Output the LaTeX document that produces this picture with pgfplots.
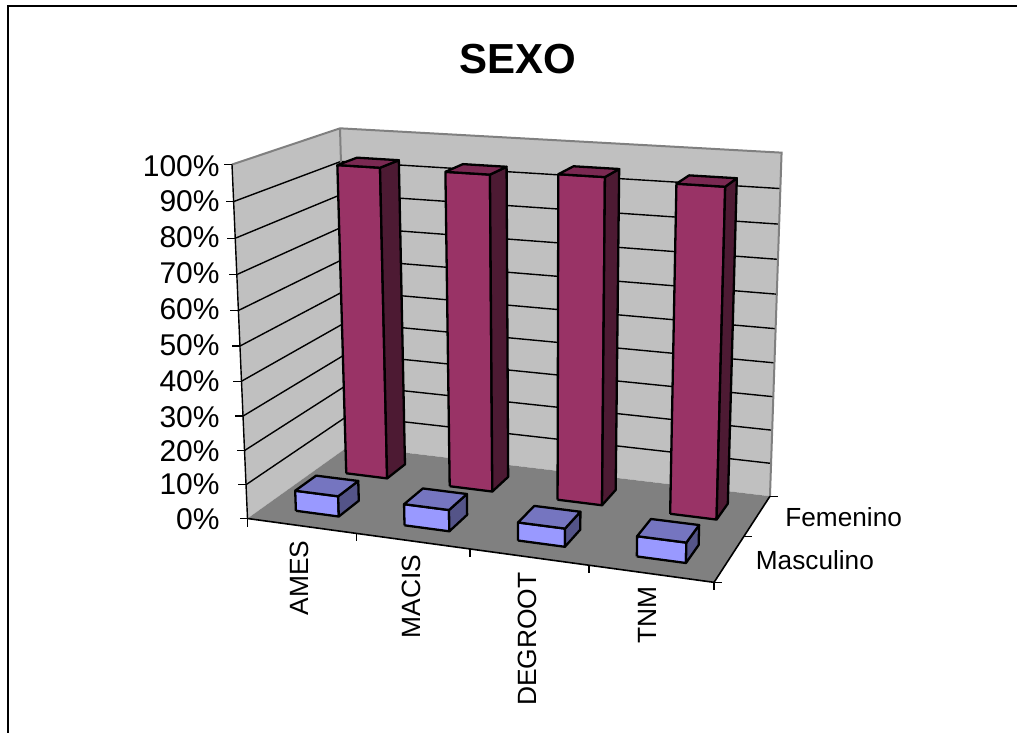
\documentclass[border=0pt]{standalone}
\usepackage{pgfplots}
\usepackage{pgfplotstable}
\usepackage{fontspec}
\setmainfont{Liberation Sans}
\pgfplotsset{compat=1.18}

% Perspective projection of the chart space onto the drawing plane:
% u = category position 0..4, v = series position 0..2, w = percent 0..100.
\pgfmathdeclarefunction{projd}{3}{\pgfmathparse{1-0.022*#1+0.06*#2-0.0005*#3}}
\pgfmathdeclarefunction{projx}{3}{\pgfmathparse{(247.5+100.925*#1+71.7*#2-0.271*#3)/projd(#1,#2,#3)}}
\pgfmathdeclarefunction{projy}{3}{\pgfmathparse{(518.5+3.15*#1-9.5*#2-3.622*#3)/projd(#1,#2,#3)}}

\definecolor{wall}{HTML}{C0C0C0}
\definecolor{floorc}{HTML}{808080}
\definecolor{redfront}{HTML}{993366}
\definecolor{redside}{HTML}{4D1A33}
\definecolor{redtop}{HTML}{7A2952}
\definecolor{bluefront}{HTML}{9999FF}
\definecolor{blueside}{HTML}{545488}
\definecolor{bluetop}{HTML}{7575C0}

% Faces of a unit column
\pgfplotstableread{
a b c
0 0 0
1 0 0
1 0 1
0 0 1
0 0 0
}\facefront
\pgfplotstableread{
a b c
1 0 0
1 1 0
1 1 1
1 0 1
1 0 0
}\faceside
\pgfplotstableread{
a b c
0 0 1
1 0 1
1 1 1
0 1 1
0 0 1
}\facetop

% Chart-space outlines
\pgfplotstableread{
u v w
0 0 0
0 2 0
0 2 100
0 0 100
0 0 0
}\leftwall
\pgfplotstableread{
u v w
0 2 0
4 2 0
4 2 100
0 2 100
0 2 0
}\backwall
\pgfplotstableread{
u v w
0 0 0
4 0 0
4 2 0
0 2 0
0 0 0
}\floorplane
\pgfplotstableread{
u v w
0 0 100
0 2 100
4 2 100
4 2 0
}\wallrim
\pgfplotstableread{
u v
0 0
0 2
4 2
}\gridpath
\pgfplotstableread{
u v w
0 2 0
0 2 100
}\wallcorner
\pgfplotstableread{
u v w
0 0 100
0 0 0
}\leftedge
\pgfplotstableread{
u v w
0 0 0
4 0 0
4 2 0
}\frontedges
\pgfplotstableread{
t s
0 0
1 1
}\tickunit

% One column: category index, series index, percent, three face colours
\newcommand{\tridbar}[6]{%
  \addplot[fill=#4,draw=black,line width=1.15pt,line join=round]
    table[x expr={projx(#1+0.3+0.4*\thisrow{a},#2+0.3+0.4*\thisrow{b},#3*\thisrow{c})},
          y expr={projy(#1+0.3+0.4*\thisrow{a},#2+0.3+0.4*\thisrow{b},#3*\thisrow{c})}] {\facefront};
  \addplot[fill=#5,draw=black,line width=1.15pt,line join=round]
    table[x expr={projx(#1+0.3+0.4*\thisrow{a},#2+0.3+0.4*\thisrow{b},#3*\thisrow{c})},
          y expr={projy(#1+0.3+0.4*\thisrow{a},#2+0.3+0.4*\thisrow{b},#3*\thisrow{c})}] {\faceside};
  \addplot[fill=#6,draw=black,line width=1.15pt,line join=round]
    table[x expr={projx(#1+0.3+0.4*\thisrow{a},#2+0.3+0.4*\thisrow{b},#3*\thisrow{c})},
          y expr={projy(#1+0.3+0.4*\thisrow{a},#2+0.3+0.4*\thisrow{b},#3*\thisrow{c})}] {\facetop};
}
\pgfkeys{/pgfplots/table/space/.style={x expr={projx(\thisrow{u},\thisrow{v},\thisrow{w})},
                                       y expr={projy(\thisrow{u},\thisrow{v},\thisrow{w})}}}

\begin{document}
\begin{tikzpicture}
\useasboundingbox (0,0) rectangle (508.5pt,366.5pt);
\begin{axis}[
  at={(0,0)}, anchor=south west,
  width=508.5pt, height=366.5pt, scale only axis,
  xmin=0, xmax=1017, ymin=0, ymax=733, y dir=reverse,
  axis lines=none, clip=true,
  every axis plot/.append style={mark=none, forget plot},
  nodes={inner sep=0pt},
]
% chart frame
\addplot[black,line width=1pt] coordinates {(7.5,733) (7.5,6.5) (1017,6.5)};

% walls and floor
\addplot[fill=wall,draw=none] table[space] {\leftwall};
\addplot[fill=wall,draw=none] table[space] {\backwall};
\addplot[fill=floorc,draw=none] table[space] {\floorplane};

% gridlines every 10%
\pgfplotsinvokeforeach{10,20,...,90}{
  \addplot[black,line width=0.7pt]
    table[x expr={projx(\thisrow{u},\thisrow{v},#1)},y expr={projy(\thisrow{u},\thisrow{v},#1)}] {\gridpath};
}
\addplot[floorc,line width=1pt] table[space] {\wallrim};
\addplot[floorc,line width=1pt] table[space] {\wallcorner};
\addplot[black,line width=0.7pt] table[space] {\leftedge};
\addplot[black,line width=0.8pt] table[space] {\frontedges};

% value-axis ticks
\pgfplotsinvokeforeach{0,10,...,100}{
  \addplot[black,line width=0.7pt] table[
    x expr={projx(0,0,#1)-8*\thisrow{t}},y expr={projy(0,0,#1)}] {\tickunit};
}
% category-axis ticks
\pgfplotsinvokeforeach{0,1,2,3,4}{
  \addplot[black,line width=0.7pt] table[
    x expr={projx(#1,0,0)},y expr={projy(#1,0,0)+8*\thisrow{t}}] {\tickunit};
}
% series-axis ticks
\pgfplotsinvokeforeach{0,1,2}{
  \addplot[black,line width=0.7pt] table[
    x expr={projx(4,#1,0)+8*\thisrow{t}},y expr={projy(4,#1,0)}] {\tickunit};
}

% Femenino
\tridbar{0}{1}{93.3}{redfront}{redside}{redtop}
\tridbar{1}{1}{93.3}{redfront}{redside}{redtop}
\tridbar{2}{1}{94.6}{redfront}{redside}{redtop}
\tridbar{3}{1}{94.0}{redfront}{redside}{redtop}
% Masculino
\tridbar{0}{0}{6.0}{bluefront}{blueside}{bluetop}
\tridbar{1}{0}{6.2}{bluefront}{blueside}{bluetop}
\tridbar{2}{0}{5.2}{bluefront}{blueside}{bluetop}
\tridbar{3}{0}{5.7}{bluefront}{blueside}{bluetop}

% title and axis labels
\node[font=\fontsize{21}{25}\selectfont\bfseries] at (axis cs:518,59) {SEXO};
\node[font=\fontsize{15}{18}\selectfont,anchor=east] at (axis cs:220,519) {0\%};
\node[font=\fontsize{15}{18}\selectfont,anchor=east] at (axis cs:220,484) {10\%};
\node[font=\fontsize{15}{18}\selectfont,anchor=east] at (axis cs:220,451) {20\%};
\node[font=\fontsize{15}{18}\selectfont,anchor=east] at (axis cs:220,417) {30\%};
\node[font=\fontsize{15}{18}\selectfont,anchor=east] at (axis cs:220,381) {40\%};
\node[font=\fontsize{15}{18}\selectfont,anchor=east] at (axis cs:220,345) {50\%};
\node[font=\fontsize{15}{18}\selectfont,anchor=east] at (axis cs:220,309) {60\%};
\node[font=\fontsize{15}{18}\selectfont,anchor=east] at (axis cs:220,273) {70\%};
\node[font=\fontsize{15}{18}\selectfont,anchor=east] at (axis cs:220,237) {80\%};
\node[font=\fontsize{15}{18}\selectfont,anchor=east] at (axis cs:220,201) {90\%};
\node[font=\fontsize{15}{18}\selectfont,anchor=east] at (axis cs:220,166) {100\%};
\node[font=\fontsize{13.2}{16}\selectfont,rotate=90,anchor=east] at (axis cs:299.5,540) {AMES};
\node[font=\fontsize{13.2}{16}\selectfont,rotate=90,anchor=east] at (axis cs:411.5,554) {MACIS};
\node[font=\fontsize{13.2}{16}\selectfont,rotate=90,anchor=east] at (axis cs:527.5,572) {DEGROOT};
\node[font=\fontsize{13.2}{16}\selectfont,rotate=90,anchor=east] at (axis cs:647.5,586) {TNM};
\node[font=\fontsize{13.1}{16}\selectfont,anchor=west] at (axis cs:785,517) {Femenino};
\node[font=\fontsize{13.1}{16}\selectfont,anchor=west] at (axis cs:755.5,560) {Masculino};
\end{axis}
\end{tikzpicture}
\end{document}
